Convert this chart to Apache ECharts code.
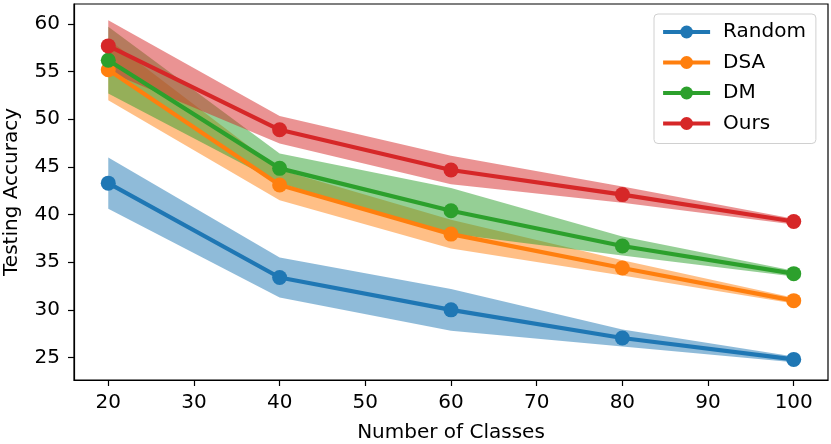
<!DOCTYPE html>
<html>
<head>
<meta charset="utf-8">
<script src="https://cdn.jsdelivr.net/npm/echarts@6/dist/echarts.min.js"></script>
<style>
html,body{margin:0;padding:0;background:#fff;}
#chart{width:831px;height:444px;}
</style>
</head>
<body>
<div id="chart"></div>
<script>
const classes = [20, 40, 60, 80, 100];
const xTicks = [20, 30, 40, 50, 60, 70, 80, 90, 100];
const yTicks = [25, 30, 35, 40, 45, 50, 55, 60];

const randomMean = [43.3, 33.4, 30.0, 27.05, 24.8];
const randomStd  = [2.7, 2.1, 2.2, 0.9, 0.3];
const dsaMean    = [55.2, 43.1, 37.95, 34.4, 30.97];
const dsaStd     = [3.2, 1.6, 1.5, 0.8, 0.3];
const dmMean     = [56.2, 44.85, 40.4, 36.7, 33.8];
const dmStd      = [3.5, 1.55, 2.4, 1.0, 0.3];
const oursMean   = [57.7, 48.9, 44.68, 42.1, 39.27];
const oursStd    = [2.7, 1.45, 1.5, 0.85, 0.3];

const methods = [
  {name: 'Random', mean: randomMean, std: randomStd, color: '#1f77b4'},
  {name: 'DSA',    mean: dsaMean,    std: dsaStd,    color: '#ff7f0e'},
  {name: 'DM',     mean: dmMean,     std: dmStd,     color: '#2ca02c'},
  {name: 'Ours',   mean: oursMean,   std: oursStd,   color: '#d62728'}
];

const FONT = 'DejaVu Sans';
const FS = 20;
const series = [];
methods.forEach(function (m, k) {
  const bandData = classes.map(function (c, i) { return [c, m.mean[i] - m.std[i], m.mean[i] + m.std[i]]; });
  series.push({
    type: 'custom',
    name: m.name + ' band',
    silent: true,
    z: 1 + k,
    clip: true,
    data: bandData,
    renderItem: function (params, api) {
      if (params.dataIndex !== 0) return null;
      const upper = bandData.map(function (d) { return api.coord([d[0], d[2]]); });
      const lower = bandData.map(function (d) { return api.coord([d[0], d[1]]); }).reverse();
      return {
        type: 'polygon',
        shape: {points: upper.concat(lower)},
        style: {fill: m.color, opacity: 0.5}
      };
    }
  });
});
methods.forEach(function (m, k) {
  series.push({
    type: 'line',
    name: m.name,
    z: 10 + k,
    data: classes.map(function (c, i) { return [c, m.mean[i]]; }),
    symbol: 'circle',
    symbolSize: 15,
    lineStyle: {color: m.color, width: 4.2},
    itemStyle: {color: m.color},
    emphasis: {disabled: true},
    animation: false
  });
});

const chart = echarts.init(document.getElementById('chart'));
chart.setOption({
  animation: false,
  backgroundColor: '#fff',
  grid: {left: 74, right: 3, top: 4, bottom: 64, outerBoundsMode: 'none', containLabel: false,
         show: true, borderColor: '#000', borderWidth: 1.2, backgroundColor: 'transparent'},
  legend: {
    data: methods.map(function (m) { return m.name; }),
    left: 654, top: 14,
    orient: 'vertical',
    itemWidth: 47, itemHeight: 16, itemGap: 10.5,
    padding: [8, 10, 10, 7],
    backgroundColor: 'rgba(255,255,255,0.8)',
    borderColor: '#d0d0d0', borderWidth: 1, borderRadius: 4,
    lineStyle: {width: 4.2},
    textStyle: {fontFamily: FONT, fontSize: FS, color: '#000', padding: [0, 0, 0, 8]},
    z: 50
  },
  xAxis: {
    type: 'value', min: 16, max: 104,
    name: 'Number of Classes', nameLocation: 'middle', nameGap: 43,
    nameTextStyle: {fontFamily: FONT, fontSize: FS, color: '#000'},
    axisLine: {show: true, lineStyle: {color: '#000', width: 1.2}},
    axisTick: {show: true, length: 6, lineStyle: {color: '#000', width: 1.2}, customValues: xTicks},
    axisLabel: {fontFamily: FONT, fontSize: FS, color: '#000', margin: 13, customValues: xTicks},
    splitLine: {show: false}
  },
  yAxis: {
    type: 'value', min: 22.64, max: 62.1,
    name: 'Testing Accuracy', nameLocation: 'middle', nameGap: 52,
    nameTextStyle: {fontFamily: FONT, fontSize: FS, color: '#000'},
    axisLine: {show: true, lineStyle: {color: '#000', width: 1.2}},
    axisTick: {show: true, length: 6, lineStyle: {color: '#000', width: 1.2}, customValues: yTicks},
    axisLabel: {fontFamily: FONT, fontSize: FS, color: '#000', margin: 14, customValues: yTicks},
    splitLine: {show: false}
  },
  series: series
});
</script>
</body>
</html>
